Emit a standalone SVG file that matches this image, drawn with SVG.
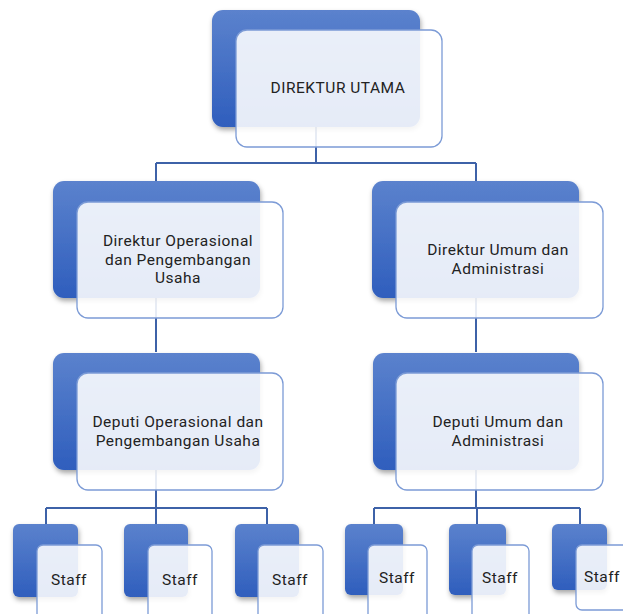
<svg xmlns="http://www.w3.org/2000/svg" width="623" height="614" viewBox="0 0 623 614">
<defs>
<linearGradient id="bg" x1="0" y1="0" x2="0" y2="1">
<stop offset="0" stop-color="#5b82cd"/>
<stop offset="1" stop-color="#2f5ebd"/>
</linearGradient>
<filter id="sh" x="-20%" y="-20%" width="140%" height="150%">
<feDropShadow dx="1" dy="3" stdDeviation="2.5" flood-color="#000" flood-opacity="0.35"/>
</filter>
<style>
.b{fill:url(#bg);filter:url(#sh)}
.f{fill:#ffffff;fill-opacity:0.88;stroke:#7c9bd6;stroke-width:1.3}
.c{fill:none;stroke:#3e62a8;stroke-width:2}
.t{font-family:Roboto,"Open Sans",sans-serif;font-size:15.5px;letter-spacing:0.5px;fill:#222222;text-anchor:middle}
</style>
</defs>
<rect width="623" height="614" fill="#ffffff"/>
<g id="connectors" class="c">
<path d="M316,127 V163 M156,163 H476 M156,163 V352 M476,163 V352"/>
<path d="M156,470 V508 M46,508 H267 M46,508 V524 M156,508 V524 M267,508 V524"/>
<path d="M476,470 V508 M374,508 H580 M374,508 V524 M477,508 V524 M580,508 V524"/>
</g>
<g id="direktur-utama">
<rect class="b" x="212" y="10" width="208" height="117" rx="11"/>
<rect class="f" x="236" y="30" width="206" height="117" rx="11"/>
<text class="t" x="338" y="93">DIREKTUR UTAMA</text>
</g>
<g id="direktur-operasional">
<rect class="b" x="53" y="181" width="207" height="117" rx="11"/>
<rect class="f" x="77" y="202" width="206" height="116" rx="11"/>
<text class="t" x="178" y="246">Direktur Operasional<tspan x="178" dy="18.5">dan Pengembangan</tspan><tspan x="178" dy="18.5">Usaha</tspan></text>
</g>
<g id="direktur-umum">
<rect class="b" x="372" y="181" width="207" height="117" rx="11"/>
<rect class="f" x="396" y="202" width="207" height="116" rx="11"/>
<text class="t" x="498" y="255">Direktur Umum dan<tspan x="498" dy="19">Administrasi</tspan></text>
</g>
<g id="deputi-operasional">
<rect class="b" x="53" y="353" width="207" height="117" rx="11"/>
<rect class="f" x="77" y="373" width="206" height="117" rx="11"/>
<text class="t" x="178" y="427">Deputi Operasional dan<tspan x="178" dy="18.5">Pengembangan Usaha</tspan></text>
</g>
<g id="deputi-umum">
<rect class="b" x="373" y="353" width="206" height="117" rx="11"/>
<rect class="f" x="396" y="373" width="207" height="117" rx="11"/>
<text class="t" x="498" y="427">Deputi Umum dan<tspan x="498" dy="18.5">Administrasi</tspan></text>
</g>
<g id="staff-1">
<rect class="b" x="13" y="524" width="65" height="73" rx="6"/>
<rect class="f" x="37" y="545" width="65" height="76" rx="6"/>
<text class="t" x="69" y="585">Staff</text>
</g>
<g id="staff-2">
<rect class="b" x="124" y="524" width="64" height="73" rx="6"/>
<rect class="f" x="148" y="545" width="64" height="76" rx="6"/>
<text class="t" x="180" y="585">Staff</text>
</g>
<g id="staff-3">
<rect class="b" x="235" y="524" width="64" height="73" rx="6"/>
<rect class="f" x="258" y="545" width="65" height="76" rx="6"/>
<text class="t" x="290" y="585">Staff</text>
</g>
<g id="staff-4">
<rect class="b" x="345" y="524" width="58" height="71" rx="6"/>
<rect class="f" x="368" y="545" width="59" height="76" rx="6"/>
<text class="t" x="397" y="583">Staff</text>
</g>
<g id="staff-5">
<rect class="b" x="449" y="524" width="57" height="71" rx="6"/>
<rect class="f" x="472" y="545" width="57" height="76" rx="6"/>
<text class="t" x="500" y="583">Staff</text>
</g>
<g id="staff-6">
<rect class="b" x="552" y="524" width="55" height="66" rx="6"/>
<rect class="f" x="576" y="545" width="56" height="65" rx="6"/>
<text class="t" x="602" y="582">Staff</text>
</g>
</svg>
